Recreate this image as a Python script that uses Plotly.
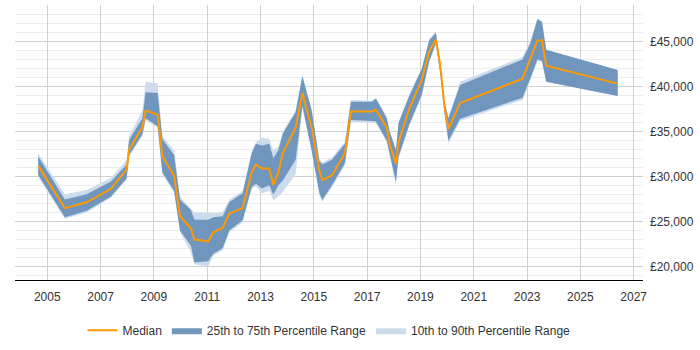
import plotly.graph_objects as go

years = [2004.66, 2005.66, 2006.48, 2007.39, 2007.98, 2008.07, 2008.57, 2008.69, 2009.14, 2009.32,
         2009.76, 2009.98, 2010.39, 2010.52, 2011.04, 2011.23, 2011.58, 2011.83, 2012.33, 2012.67,
         2012.83, 2013.05, 2013.33, 2013.48, 2013.67, 2013.84, 2014.32, 2014.57, 2014.92, 2015.21,
         2015.32, 2015.68, 2016.17, 2016.39, 2017.18, 2017.33, 2017.74, 2017.84, 2018.08, 2018.18,
         2018.58, 2019.05, 2019.33, 2019.58, 2019.74, 2019.90, 2020.05, 2020.49, 2022.83, 2023.12,
         2023.39, 2023.56, 2023.72, 2026.40]

median = [31200, 26500, 27150, 28650, 30800, 33000, 35500, 37350, 36900, 32250,
          30100, 25600, 24250, 23000, 22800, 23800, 24300, 25900, 26500, 30450,
          31350, 30900, 30900, 29100, 30450, 32650, 35450, 39300, 35450, 30650,
          29600, 30150, 32600, 37250, 37250, 37450, 35450, 33650, 31450, 33850,
          37550, 40750, 43950, 45250, 42500, 37900, 35300, 38200, 40900, 43050,
          45150, 45150, 42350, 40350]

p75 = [32230, 27450, 28040, 29470, 31340, 34070, 36490, 39390, 39320, 34180,
       32400, 27450, 26280, 25210, 25210, 25490, 25600, 27190, 28150, 32590,
       33650, 33470, 33650, 32050, 32940, 34790, 37190, 41170, 37370, 31700,
       31340, 31870, 33650, 38330, 38330, 38680, 36490, 35060, 32940, 35960,
       38970, 41980, 45170, 45990, 42690, 38330, 36490, 40200, 43040, 44820,
       47520, 47200, 44110, 41870]

p25 = [30170, 25490, 26200, 27800, 29820, 32400, 34710, 36490, 35600, 30460,
       28400, 24000, 22300, 20460, 20600, 21420, 22020, 24000, 25140, 28860,
       29210, 28680, 29040, 27980, 29040, 29570, 31870, 37900, 32940, 28150,
       27450, 29040, 31520, 36310, 36200, 36130, 34000, 32590, 29400, 32230,
       35780, 39150, 42870, 44820, 41630, 37190, 34000, 36450, 38790, 40910,
       43040, 42870, 40560, 38970]

p90 = [32590, 28040, 28510, 29850, 31870, 34530, 37370, 40560, 40380, 34530,
       32940, 27800, 26380, 26020, 26020, 25920, 26020, 27450, 28400, 32800,
       33830, 34350, 34200, 32940, 33300, 35000, 37400, 41300, 37500, 31900,
       31600, 32100, 33900, 38540, 38450, 38800, 36600, 35200, 33100, 36100,
       39100, 42100, 45300, 46200, 42800, 38400, 36600, 40560, 43300, 45000,
       47660, 47300, 44110, 41870]

p10 = [30000, 25320, 26020, 27650, 29650, 32200, 34500, 36310, 35430, 30300,
       28200, 23800, 21600, 20240, 20000, 21200, 21800, 23800, 24900, 28600,
       28900, 28150, 28400, 27340, 27800, 28330, 30280, 37700, 32700, 27900,
       27200, 28800, 31300, 36100, 36000, 35950, 33800, 32300, 29100, 32000,
       35600, 38950, 42700, 44700, 41500, 37000, 33700, 36200, 38540, 40700,
       42900, 42750, 40560, 38970]

x_ticks = [2005, 2007, 2009, 2011, 2013, 2015, 2017, 2019, 2021, 2023, 2025, 2027]

LIGHT = "#cddcec"
DARK = "#7096be"
ORANGE = "#ff9900"

fig = go.Figure()

fig.add_trace(go.Scatter(x=years, y=p90, mode="lines", line=dict(width=0, color=LIGHT),
                         showlegend=False, hoverinfo="skip"))
fig.add_trace(go.Scatter(x=years, y=p10, mode="lines", line=dict(width=0, color=LIGHT),
                         fill="tonexty", fillcolor=LIGHT, name="10th to 90th Percentile Range",
                         legendrank=3))
fig.add_trace(go.Scatter(x=years, y=p75, mode="lines", line=dict(width=0, color=DARK),
                         showlegend=False, hoverinfo="skip"))
fig.add_trace(go.Scatter(x=years, y=p25, mode="lines", line=dict(width=0, color=DARK),
                         fill="tonexty", fillcolor=DARK, name="25th to 75th Percentile Range",
                         legendrank=2))
fig.add_trace(go.Scatter(x=years, y=median, mode="lines", line=dict(width=2, color=ORANGE),
                         name="Median", legendrank=1))

fig.update_layout(
    width=700, height=350,
    margin=dict(l=15, r=57, t=5, b=58),
    paper_bgcolor="white", plot_bgcolor="white",
    font=dict(family="Liberation Sans, Arial, sans-serif", size=12, color="#333333"),
    legend=dict(orientation="h", x=0.5, xanchor="center", y=-0.13, yanchor="top",
                font=dict(size=12, color="#333333"), itemwidth=30, traceorder="normal"),
    xaxis=dict(range=[2003.79, 2027.35], tickmode="array", tickvals=x_ticks,
               ticktext=[str(t) for t in x_ticks],
               showgrid=True, gridcolor="#d0d0d0", gridwidth=1,
               showline=True, linecolor="#000000", linewidth=1,
               ticks="", zeroline=False, ticklabelstandoff=6),
    yaxis=dict(side="right", range=[18500, 49100], dtick=5000, tick0=0,
               tickprefix="£", tickformat=",d",
               showgrid=True, gridcolor="#d0d0d0", gridwidth=1,
               minor=dict(dtick=1000, showgrid=True, gridcolor="#ececec", gridwidth=1),
               zeroline=False, ticks="", showline=False, ticklabelstandoff=6),
)

fig.write_html("out.html")
